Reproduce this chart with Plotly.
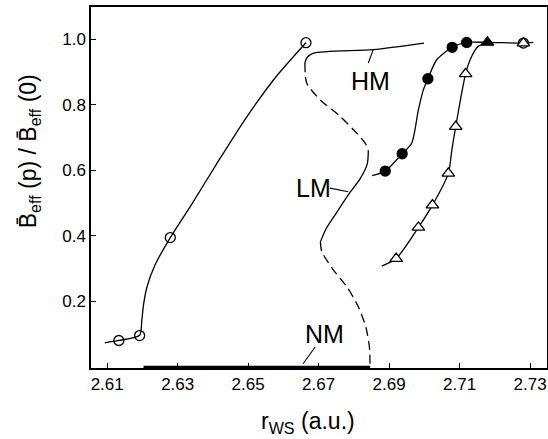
import plotly.graph_objects as go

# ---- data ----
# open circles (measured points)
oc_x = [2.6133, 2.6192, 2.6279, 2.6664]
oc_y = [0.081, 0.096, 0.395, 0.990]
# curve through open circles
oc_cx = [2.6093, 2.6133, 2.6192, 2.6198, 2.6203, 2.6213, 2.6235, 2.6279, 2.6341, 2.6411, 2.6490, 2.6579, 2.6664]
oc_cy = [0.074, 0.081, 0.097, 0.140, 0.190, 0.245, 0.310, 0.395, 0.499, 0.621, 0.754, 0.886, 0.990]

# filled circles
fc_x = [2.6889, 2.6937, 2.7010, 2.7079, 2.7120]
fc_y = [0.598, 0.651, 0.880, 0.976, 0.991]
fc_cx = [2.6852, 2.6889, 2.6937, 2.6964, 2.6983, 2.6997, 2.7010, 2.7035, 2.7079, 2.7120, 2.7179, 2.7281, 2.7309]
fc_cy = [0.584, 0.598, 0.651, 0.683, 0.785, 0.846, 0.880, 0.938, 0.976, 0.991, 0.991, 0.989, 0.991]

# open triangles
ot_x = [2.6920, 2.6983, 2.7023, 2.7068, 2.7089, 2.7117, 2.7281]
ot_y = [0.331, 0.426, 0.494, 0.591, 0.734, 0.895, 0.989]
ot_cx = [2.6879, 2.6920, 2.6983, 2.7023, 2.7068, 2.7078, 2.7089, 2.7117, 2.7134, 2.7153, 2.7179]
ot_cy = [0.308, 0.331, 0.426, 0.494, 0.591, 0.663, 0.734, 0.895, 0.948, 0.979, 0.991]

# filled triangle
ft_x = [2.7179]
ft_y = [0.991]
# extra open circle at the end
oc2_x = [2.7281]
oc2_y = [0.989]

# theoretical S-curve: HM (solid), unstable (dashed), LM (solid), unstable (dashed), NM
hm_x = [2.6999, 2.6855, 2.6685, 2.6666, 2.6661]
hm_y = [0.989, 0.969, 0.958, 0.943, 0.928]
d1_x = [2.6661, 2.6666, 2.6704, 2.6761, 2.6808, 2.6834, 2.6841]
d1_y = [0.928, 0.867, 0.816, 0.765, 0.714, 0.680, 0.660]
lm_x = [2.6841, 2.6838, 2.6818, 2.6787, 2.6750, 2.6720, 2.6705]
lm_y = [0.660, 0.620, 0.575, 0.530, 0.470, 0.420, 0.382]
d2_x = [2.6705, 2.6709, 2.6742, 2.6780, 2.6813, 2.6834, 2.6844, 2.6846]
d2_y = [0.382, 0.352, 0.296, 0.245, 0.183, 0.122, 0.061, 0.0]
nm_x = [2.6203, 2.6846]
nm_y = [0.0, 0.0]

# labels and leader lines
lab_text = ["HM", "LM", "NM"]
lab_x = [2.6846, 2.6685, 2.6718]
lab_y = [0.872, 0.545, 0.102]
lead_hm_x = [2.6841, 2.6855]; lead_hm_y = [0.928, 0.969]
lead_lm_x = [2.6732, 2.6784]; lead_lm_y = [0.546, 0.535]
lead_nm_x = [2.6690, 2.6656]; lead_nm_y = [0.061, 0.010]

x_ticks = [2.61, 2.63, 2.65, 2.67, 2.69, 2.71, 2.73]
y_ticks = [0.2, 0.4, 0.6, 0.8, 1.0]

FONT = "Liberation Sans Narrow, Liberation Sans, Arial, sans-serif"
LW = 1.3

fig = go.Figure()

def line(x, y, dash="solid", width=LW, shape="spline"):
    fig.add_trace(go.Scatter(x=x, y=y, mode="lines",
                             line=dict(color="black", width=width, dash=dash, shape=shape, smoothing=0.7),
                             hoverinfo="skip", showlegend=False))

def marks(x, y, symbol, size):
    fig.add_trace(go.Scatter(x=x, y=y, mode="markers",
                             marker=dict(symbol=symbol, size=size, color="black",
                                         line=dict(color="black", width=1.3)),
                             hoverinfo="skip", showlegend=False))

line(oc_cx, oc_cy)
line(fc_cx, fc_cy)
line(ot_cx, ot_cy)
line(hm_x, hm_y)
line(d1_x, d1_y, dash="9px,5px")
line(lm_x, lm_y)
line(d2_x, d2_y, dash="9px,5px")
line(nm_x, nm_y, width=2.6, shape="linear")
line(lead_hm_x, lead_hm_y, width=1.1, shape="linear")
line(lead_lm_x, lead_lm_y, width=1.1, shape="linear")
line(lead_nm_x, lead_nm_y, width=1.1, shape="linear")

marks(oc_x, oc_y, "circle-open", 10)
marks(oc2_x, oc2_y, "circle-open", 10)
marks(fc_x, fc_y, "circle", 10)
fig.add_trace(go.Scatter(x=ot_x, y=ot_y, mode="markers",
                         marker=dict(symbol="triangle-up", size=11, color="white",
                                     line=dict(color="black", width=1.3)),
                         hoverinfo="skip", showlegend=False))
marks(ft_x, ft_y, "triangle-up", 11)

for t, x, y in zip(lab_text, lab_x, lab_y):
    fig.add_annotation(x=x, y=y, text=t, showarrow=False,
                       font=dict(family=FONT, size=25, color="black"))

fig.add_annotation(xref="paper", yref="paper", x=-0.134, y=0.60,
                   xanchor="center", yanchor="middle",
                   text="B\u0304<sub>eff</sub> (p) / B\u0304<sub>eff</sub> (0)",
                   textangle=-90, showarrow=False,
                   font=dict(family=FONT, size=23, color="black"))
fig.add_annotation(xref="paper", yref="paper", x=0.476, y=-0.151,
                   xanchor="center", yanchor="middle",
                   text="r<sub>WS</sub> (a.u.)", showarrow=False,
                   font=dict(family=FONT, size=23, color="black"))

fig.update_xaxes(range=[2.6054, 2.7348], tickvals=x_ticks,
                 ticktext=[f"{v:.2f}" for v in x_ticks],
                 ticks="inside", ticklen=5, tickcolor="black", tickwidth=1.2,
                 showline=True, linecolor="black", linewidth=1.5, mirror=True,
                 showgrid=False, zeroline=False, automargin=False,
                 tickfont=dict(family=FONT, size=17, color="black"))
fig.update_yaxes(range=[-0.003, 1.099], tickvals=y_ticks,
                 ticktext=[f"{v:.1f}" for v in y_ticks],
                 ticks="inside", ticklen=5, tickcolor="black", tickwidth=1.2,
                 showline=True, linecolor="black", linewidth=1.5, mirror=True,
                 showgrid=False, zeroline=False, automargin=False,
                 tickfont=dict(family=FONT, size=17, color="black"))

fig.update_layout(width=548, height=439,
                  margin=dict(l=91, r=1, t=7, b=71),
                  paper_bgcolor="white", plot_bgcolor="white",
                  showlegend=False)

fig.write_html("out.html", config={"displayModeBar": False},
               post_script="document.body.style.margin='0px';document.body.style.padding='0px';")
